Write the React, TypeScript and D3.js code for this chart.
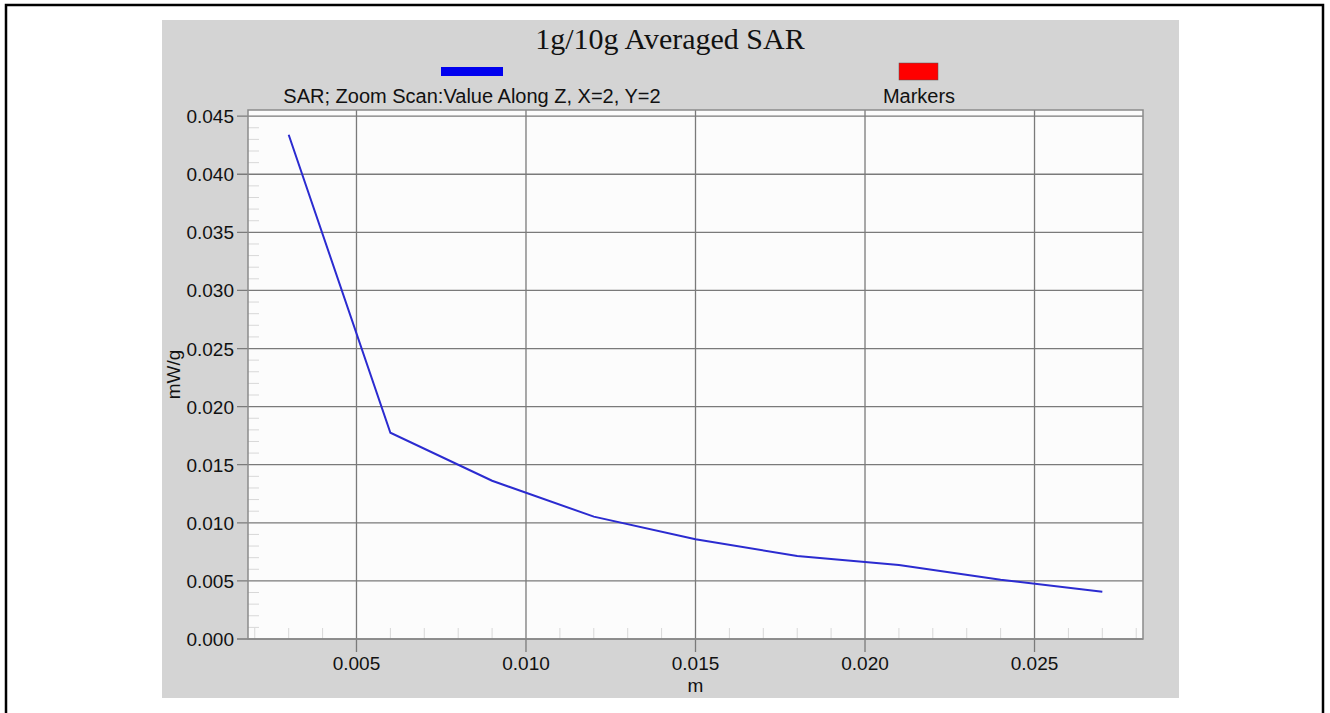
import React from "react";
import * as d3 from "d3";

const title = "1g/10g Averaged SAR";
const seriesName = "SAR; Zoom Scan:Value Along Z, X=2, Y=2";
const markerName = "Markers";
const xLabel = "m";
const yLabel = "mW/g";

const xValues = [0.003, 0.006, 0.009, 0.012, 0.015, 0.018, 0.021, 0.024, 0.027];
const sarValues = [0.0434, 0.01775, 0.01362, 0.01053, 0.00858, 0.00714, 0.00637, 0.00510, 0.00407];

const xTicks = [0.005, 0.01, 0.015, 0.02, 0.025];
const yTicks = [0, 0.005, 0.01, 0.015, 0.02, 0.025, 0.03, 0.035, 0.04, 0.045];
const xMinor = d3.range(2, 29).map((i) => i / 1000).filter((v) => Math.round(v * 1000) % 5 !== 0);
const yMinor = d3.range(1, 46).map((i) => i / 1000).filter((v) => Math.round(v * 1000) % 5 !== 0);

const xDomain: [number, number] = [0.0018, 0.0282];
const yDomain: [number, number] = [0, 0.04553];

export default function App() {
  const W = 1330;
  const H = 713;
  const L = 248, R = 1143, T = 110, B = 639;
  const x = d3.scaleLinear().domain(xDomain).range([L, R]);
  const y = d3.scaleLinear().domain(yDomain).range([B, T]);
  const pts: [number, number][] = xValues.map((v, i) => [v, sarValues[i]]);
  const line = d3.line<[number, number]>().x((d) => x(d[0])).y((d) => y(d[1]));
  const sans = "Arial, 'Liberation Sans', sans-serif";
  const serif = "'Times New Roman', 'Liberation Serif', serif";
  const grid = "#7a7a7a";
  const minor = "#d8d8d8";

  return (
    <div style={{ position: "fixed", left: 0, top: 0, width: W, height: H, background: "#fff" }}>
      <svg width={W} height={H} style={{ display: "block" }}>
        <rect x={6} y={5} width={1317} height={H + 10} fill="#fff" stroke="#000" strokeWidth={2.5} />
        <rect x={162} y={20} width={1017} height={678} fill="#d4d4d4" />
        <rect x={L} y={T} width={R - L} height={B - T} fill="#fcfcfc" />

        {/* minor ticks */}
        {xMinor.map((v) => (
          <line key={"xm" + v} x1={x(v)} x2={x(v)} y1={B} y2={B - 11} stroke={minor} strokeWidth={1} />
        ))}
        {yMinor.map((v) => (
          <line key={"ym" + v} x1={L} x2={L + 11} y1={y(v)} y2={y(v)} stroke={minor} strokeWidth={1} />
        ))}

        {/* grid lines + major ticks */}
        {xTicks.map((v) => (
          <line key={"xg" + v} x1={x(v)} x2={x(v)} y1={T} y2={B + 13} stroke={grid} strokeWidth={1.3} />
        ))}
        {yTicks.map((v) => (
          <line key={"yg" + v} x1={L - 11} x2={R} y1={y(v)} y2={y(v)} stroke={grid} strokeWidth={1.3} />
        ))}

        <rect x={L} y={T} width={R - L} height={B - T} fill="none" stroke="#8a8a8a" strokeWidth={1.5} />

        {/* tick labels */}
        {xTicks.map((v) => (
          <text key={"xl" + v} x={x(v)} y={670} textAnchor="middle" fontFamily={sans} fontSize={19} fill="#111">
            {v.toFixed(3)}
          </text>
        ))}
        {yTicks.map((v) => (
          <text key={"yl" + v} x={234} y={y(v) + 7} textAnchor="end" fontFamily={sans} fontSize={19} fill="#111">
            {v.toFixed(3)}
          </text>
        ))}

        {/* axis labels */}
        <text x={(L + R) / 2} y={692} textAnchor="middle" fontFamily={sans} fontSize={19} fill="#111">
          {xLabel}
        </text>
        <text
          transform={`translate(180, ${(T + B) / 2}) rotate(-90)`}
          textAnchor="middle"
          fontFamily={sans}
          fontSize={19}
          fill="#111"
        >
          {yLabel}
        </text>

        {/* data line */}
        <path d={line(pts) || ""} fill="none" stroke="#2b2bd0" strokeWidth={2} />

        {/* title */}
        <text x={670} y={49} textAnchor="middle" fontFamily={serif} fontSize={30} fill="#111">
          {title}
        </text>

        {/* legend */}
        <rect x={441} y={67} width={62} height={9} fill="#0000ee" />
        <text x={472} y={103} textAnchor="middle" fontFamily={sans} fontSize={20} fill="#111">
          {seriesName}
        </text>
        <rect x={899} y={63} width={39} height={17} fill="#ff0000" stroke="#555" strokeWidth={0.5} />
        <text x={919} y={103} textAnchor="middle" fontFamily={sans} fontSize={20} fill="#111">
          {markerName}
        </text>
      </svg>
    </div>
  );
}
